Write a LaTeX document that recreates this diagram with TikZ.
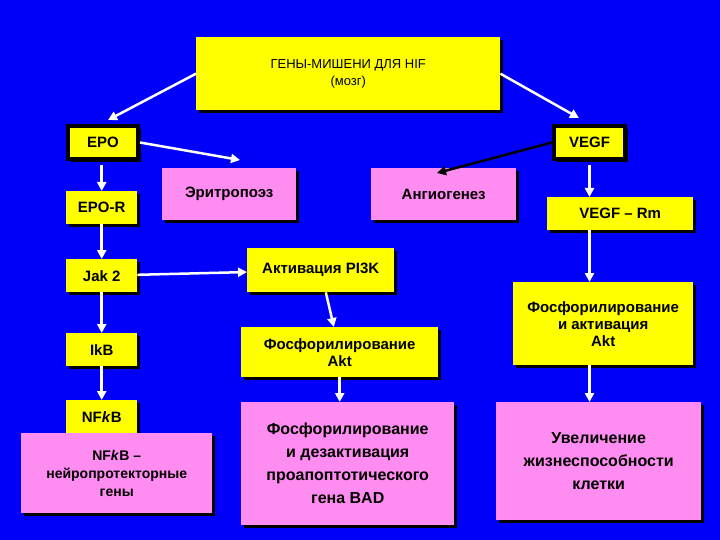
\documentclass[tikz,border=0pt]{standalone}
\usepackage{fontspec}
\setmainfont{Liberation Sans}
\usetikzlibrary{shadows,arrows.meta}
\definecolor{bg}{RGB}{0,0,250}
\definecolor{yel}{RGB}{255,255,0}
\definecolor{pnk}{RGB}{255,140,240}
\tikzset{
 bx/.style={anchor=north west,inner sep=0pt,align=center,font=\bfseries\fontsize{15}{17}\selectfont,
   drop shadow={shadow xshift=3pt,shadow yshift=-3pt,fill=black,opacity=1}},
 yb/.style={bx,fill=yel},
 pb/.style={bx,fill=pnk},
 sz/.style 2 args={minimum width=#1pt,minimum height=#2pt},
 wa/.style={draw=white,line width=2.5pt,-{Triangle[length=9pt,width=9pt]}},
 ba/.style={draw=black,line width=2.5pt,-{Triangle[length=9pt,width=9pt]}},
}
\begin{document}
\begin{tikzpicture}[x=1pt,y=-1pt]
\fill[bg] (0,0) rectangle (720,540);
\node[yb,sz={304}{73},font=\fontsize{13}{17}\selectfont] (hif) at (196,37) {ГЕНЫ-МИШЕНИ ДЛЯ HIF\\(мозг)};
\node[yb,sz={70}{33},draw=black,line width=4pt] (epo) at (66,124) {EPO};
\node[yb,sz={71}{33},draw=black,line width=4pt] (vegf) at (552,124) {VEGF};
\node[yb,sz={71}{33}] (epor) at (66,191) {EPO-R};
\node[pb,sz={134}{52}] (ery) at (162,168) {Эритропоэз};
\node[pb,sz={145}{52}] (ang) at (371,168) {Ангиогенез};
\node[yb,sz={146}{33}] (vegfr) at (547,197) {VEGF – Rm};
\node[yb,sz={71}{33}] (jak) at (66,259) {Jak 2};
\node[yb,sz={147}{44}] (pi3k) at (247,248) {Активация PI3K};
\node[yb,sz={180}{83}] (fosv) at (513,282) {Фосфорилирование\\и активация\\Akt};
\node[yb,sz={71}{33}] (ikb) at (66,333) {IkB};
\node[yb,sz={197}{50}] (akt) at (241,327) {Фосфорилирование\\Akt};
\node[yb,sz={71}{34}] (nfkb) at (66,400) {NF\textit{k}B};
\node[pb,sz={191}{80},font=\bfseries\fontsize{14}{18}\selectfont] (nfg) at (21,433) {NF\textit{k}B –\\нейропротекторные\\гены};
\node[pb,sz={213}{123},font=\bfseries\fontsize{16}{23}\selectfont] (bad) at (241,402) {Фосфорилирование\\и дезактивация\\проапоптотического\\гена BAD};
\node[pb,sz={205}{118},font=\bfseries\fontsize{16}{23}\selectfont] (uvel) at (496,402) {Увеличение\\жизнеспособности\\клетки};
\coordinate (e1) at (240,160);
\coordinate (a1) at (437,173);
\coordinate (h1) at (108,120);
\coordinate (h2) at (579,118);
\draw[wa] (hif.west) -- (h1);
\draw[wa] (hif.east) -- (h2);
\draw[wa] (epo.east) -- (e1);
\draw[ba] (vegf.west) -- (a1);
\draw[wa] ([yshift=-4pt]epo.south -| epor.north) -- (epor.north);
\draw[wa] (epor) -- (jak);
\draw[wa] (jak) -- (ikb);
\draw[wa] (ikb) -- (nfkb);
\draw[wa] (jak) -- (pi3k);
\draw[wa] (pi3k) -- (akt);
\draw[wa] (akt) -- (akt.south |- bad.north);
\coordinate (vs) at ([yshift=-4pt]vegf.south);
\draw[wa] (vs) -- (vs |- vegfr.north);
\draw[wa] (vegfr.south -| vs) -- (vs |- fosv.north);
\draw[wa] (fosv.south -| vs) -- (vs |- uvel.north);
\end{tikzpicture}
\end{document}
